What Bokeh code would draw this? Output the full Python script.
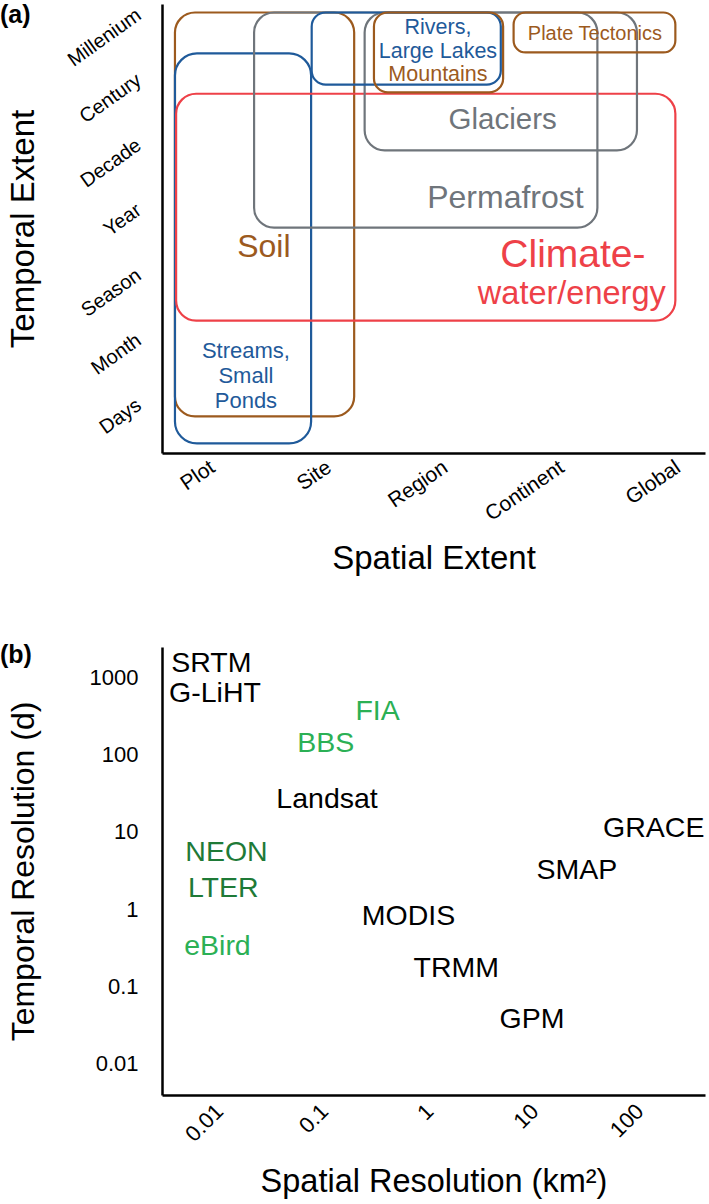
from bokeh.plotting import figure
from bokeh.models import Range1d, FixedTicker, ColumnDataSource, Div
from bokeh.layouts import column
from bokeh.embed import file_html
from bokeh.resources import INLINE
from bokeh.core.properties import value

FONT = "Liberation Sans"
BROWN = "#9C5A1E"
BLUE = "#1F5A9A"
RED = "#EE4148"
GRAY = "#6F757B"
LGREEN = "#2BB055"
DGREEN = "#1E7A37"

# ---------------- Panel (a) data ----------------
spatial_extent_ticks = [0, 1, 2, 3, 4]
spatial_extent_labels = ["Plot", "Site", "Region", "Continent", "Global"]
temporal_extent_ticks = [0, 1, 2, 3, 4, 5, 6]
temporal_extent_labels = ["Days", "Month", "Season", "Year", "Decade", "Century", "Millenium"]

domains = ["Soil", "Streams", "Climate", "Permafrost", "Glaciers", "Rivers", "Mountains", "Plate Tectonics"]
dom_left = [-0.32, -0.32, -0.31, 0.36, 1.31, 0.855, 1.39, 2.59]
dom_right = [1.22, 0.85, 3.98, 3.31, 3.65, 2.48, 2.50, 3.98]
dom_bottom = [-0.215, -0.63, 1.26, 2.69, 3.88, 4.89, 4.77, 5.385]
dom_top = [6.0, 5.37, 4.75, 6.0, 6.0, 6.0, 6.0, 6.0]
dom_color = [BROWN, BLUE, RED, GRAY, GRAY, BLUE, BROWN, BROWN]
dom_radius = [20, 22, 20, 20, 20, 14, 14, 12]

# domain labels
dom_text = ["Soil", "Streams,\nSmall\nPonds", "Rivers,\nLarge Lakes", "Mountains", "Plate Tectonics",
            "Glaciers", "Permafrost", "Climate-", "water/energy"]
dom_text_x = [0.444, 0.29, 1.94, 1.94, 3.29, 2.496, 2.52, 3.10, 3.09]
dom_text_y = [2.415, 0.415, 5.585, 5.06, 5.677, 4.37, 3.154, 2.29, 1.677]
dom_text_color = [BROWN, BLUE, BLUE, BROWN, BROWN, GRAY, GRAY, RED, RED]
dom_text_size = ["32px", "22px", "21.5px", "21.5px", "20px", "29.5px", "32px", "39px", "32.5px"]

# ---------------- Panel (b) data ----------------
datasets = ["SRTM", "G-LiHT", "FIA", "BBS", "Landsat", "NEON", "LTER", "eBird",
            "MODIS", "TRMM", "GPM", "GRACE", "SMAP"]
spatial_res_km2 = [0.0084, 0.0091, 0.321, 0.103, 0.106, 0.0117, 0.0109, 0.0096,
                   0.632, 1.80, 9.46, 136, 25.3]
temporal_res_d = [1610, 659, 374, 144, 27.1, 5.74, 1.96, 0.347,
                  0.851, 0.18, 0.0383, 11.7, 3.26]
dataset_color = ["#000000", "#000000", LGREEN, LGREEN, "#000000", DGREEN, DGREEN, LGREEN,
                 "#000000", "#000000", "#000000", "#000000", "#000000"]
res_ticks = [0.01, 0.1, 1, 10, 100]
res_tick_labels = ["0.01", "0.1", "1", "10", "100"]
tres_ticks = [0.01, 0.1, 1, 10, 100, 1000]
tres_tick_labels = ["0.01", "0.1", "1", "10", "100", "1000"]


def style_axes(p):
    p.outline_line_color = None
    p.grid.visible = False
    for ax in (p.xaxis[0], p.yaxis[0]):
        ax.axis_line_color = "black"
        ax.axis_line_width = 2.5
        ax.major_tick_line_color = None
        ax.minor_tick_line_color = None
        ax.major_tick_out = 0
        ax.major_tick_in = 0
        ax.major_label_text_font = FONT
        ax.major_label_text_color = "black"
        ax.axis_label_text_font = FONT
        ax.axis_label_text_font_style = "normal"
        ax.axis_label_text_color = "black"


# ---------------- Figure (a) ----------------
HA = 598
pa = figure(width=709, height=HA, output_backend="svg", toolbar_location=None,
            x_range=Range1d(-0.427, 4.239), y_range=Range1d(-0.785, 6.123),
            min_border_left=160, min_border_right=3, min_border_top=4, min_border_bottom=145)
style_axes(pa)
pa.xaxis.ticker = FixedTicker(ticks=spatial_extent_ticks)
pa.xaxis.major_label_overrides = {t: l for t, l in zip(spatial_extent_ticks, spatial_extent_labels)}
pa.yaxis.ticker = FixedTicker(ticks=temporal_extent_ticks)
pa.yaxis.major_label_overrides = {t: l for t, l in zip(temporal_extent_ticks, temporal_extent_labels)}
pa.xaxis.major_label_orientation = 0.6
pa.yaxis.major_label_orientation = 0.62
pa.xaxis.major_label_text_font_size = "21px"
pa.yaxis.major_label_text_font_size = "20px"
pa.xaxis.major_label_standoff = 11
pa.yaxis.major_label_standoff = 24
pa.xaxis.axis_label = "Spatial Extent"
pa.yaxis.axis_label = "Temporal Extent"
pa.xaxis.axis_label_text_font_size = "33px"
pa.yaxis.axis_label_text_font_size = "33px"
pa.xaxis.axis_label_standoff = 2
pa.yaxis.axis_label_standoff = 13

for i in range(len(domains)):
    pa.quad(left=[dom_left[i]], right=[dom_right[i]], bottom=[dom_bottom[i]], top=[dom_top[i]],
            fill_color=None, line_color=dom_color[i], line_width=2.2,
            border_radius=dom_radius[i])

src_a = ColumnDataSource(dict(x=dom_text_x, y=dom_text_y, text=dom_text,
                              color=dom_text_color, size=dom_text_size))
pa.text(x="x", y="y", text="text", source=src_a, text_color="color",
        text_font=value(FONT), text_font_size="size", text_align="center",
        text_baseline="middle", text_line_height=1.0)

# ---------------- Figure (b) ----------------
HB = 605
pb = figure(width=709, height=HB, output_backend="svg", toolbar_location=None,
            x_axis_type="log", y_axis_type="log",
            x_range=Range1d(0.00288, 423), y_range=Range1d(0.00385, 2449),
            min_border_left=160, min_border_right=4, min_border_top=49, min_border_bottom=108)
style_axes(pb)
pb.xaxis.ticker = FixedTicker(ticks=res_ticks)
pb.xaxis.major_label_overrides = {t: l for t, l in zip(res_ticks, res_tick_labels)}
pb.yaxis.ticker = FixedTicker(ticks=tres_ticks)
pb.yaxis.major_label_overrides = {t: l for t, l in zip(tres_ticks, tres_tick_labels)}
pb.xaxis.major_label_orientation = 0.785
pb.xaxis.major_label_text_font_size = "22px"
pb.yaxis.major_label_text_font_size = "22px"
pb.xaxis.major_label_standoff = 12
pb.yaxis.major_label_standoff = 24
pb.xaxis.axis_label = "Spatial Resolution (km²)"
pb.yaxis.axis_label = "Temporal Resolution (d)"
pb.xaxis.axis_label_text_font_size = "32.5px"
pb.yaxis.axis_label_text_font_size = "32px"
pb.xaxis.axis_label_standoff = 12
pb.yaxis.axis_label_standoff = 46

src_b = ColumnDataSource(dict(x=spatial_res_km2, y=temporal_res_d, text=datasets, color=dataset_color))
pb.text(x="x", y="y", text="text", source=src_b, text_color="color",
        text_font=value(FONT), text_font_size="28.5px", text_align="center",
        text_baseline="middle")

# panel letters, overlaid at the top-left of each panel
panel_style = {"position": "absolute", "left": "0px", "z-index": "10", "margin": "0px"}
span = ('<span style="font-family:\'Liberation Sans\';font-size:25px;font-weight:bold;'
        'color:black;line-height:25px;">{}</span>')
div_a = Div(text=span.format("(a)"), styles=dict(panel_style, top="2px"))
div_b = Div(text=span.format("(b)"), styles=dict(panel_style, top="642px"))

layout = column(pa, pb, div_a, div_b, spacing=0)
open("out.html", "w").write(file_html(layout, INLINE))
